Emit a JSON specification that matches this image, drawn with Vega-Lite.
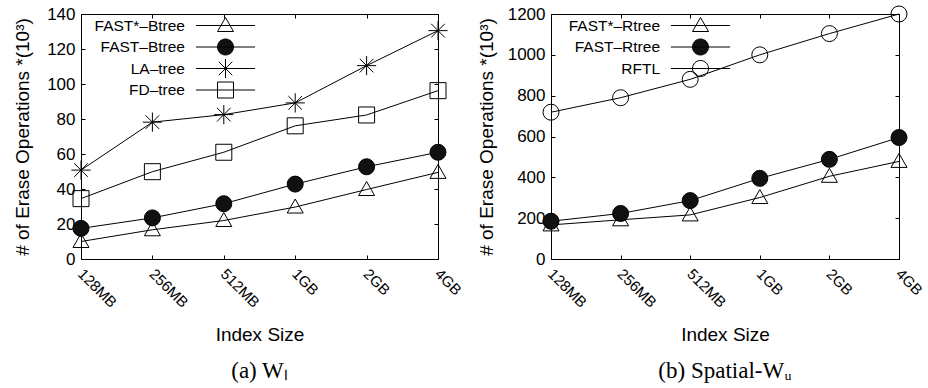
{
  "$schema": "https://vega.github.io/schema/vega-lite/v6.json",
  "padding": {"left": 13, "top": 3, "right": 5, "bottom": 0},
  "spacing": 12,
  "datasets": {
    "wl": [
      {"size": "128MB", "series": "FAST*–Btree", "erases": 10},
      {"size": "256MB", "series": "FAST*–Btree", "erases": 16.7},
      {"size": "512MB", "series": "FAST*–Btree", "erases": 22},
      {"size": "1GB", "series": "FAST*–Btree", "erases": 29.7},
      {"size": "2GB", "series": "FAST*–Btree", "erases": 39.7},
      {"size": "4GB", "series": "FAST*–Btree", "erases": 49.5},
      {"size": "128MB", "series": "FAST–Btree", "erases": 17.5},
      {"size": "256MB", "series": "FAST–Btree", "erases": 23.5},
      {"size": "512MB", "series": "FAST–Btree", "erases": 31.6},
      {"size": "1GB", "series": "FAST–Btree", "erases": 42.8},
      {"size": "2GB", "series": "FAST–Btree", "erases": 52.7},
      {"size": "4GB", "series": "FAST–Btree", "erases": 61},
      {"size": "128MB", "series": "LA–tree", "erases": 50.8},
      {"size": "256MB", "series": "LA–tree", "erases": 78.2},
      {"size": "512MB", "series": "LA–tree", "erases": 82.5},
      {"size": "1GB", "series": "LA–tree", "erases": 89.2},
      {"size": "2GB", "series": "LA–tree", "erases": 110.5},
      {"size": "4GB", "series": "LA–tree", "erases": 130.5},
      {"size": "128MB", "series": "FD–tree", "erases": 34.5},
      {"size": "256MB", "series": "FD–tree", "erases": 49.9},
      {"size": "512MB", "series": "FD–tree", "erases": 61},
      {"size": "1GB", "series": "FD–tree", "erases": 76.1},
      {"size": "2GB", "series": "FD–tree", "erases": 82.3},
      {"size": "4GB", "series": "FD–tree", "erases": 96.2}
    ],
    "wu": [
      {"size": "128MB", "series": "FAST*–Rtree", "erases": 167},
      {"size": "256MB", "series": "FAST*–Rtree", "erases": 192},
      {"size": "512MB", "series": "FAST*–Rtree", "erases": 216},
      {"size": "1GB", "series": "FAST*–Rtree", "erases": 301},
      {"size": "2GB", "series": "FAST*–Rtree", "erases": 405},
      {"size": "4GB", "series": "FAST*–Rtree", "erases": 478},
      {"size": "128MB", "series": "FAST–Rtree", "erases": 185},
      {"size": "256MB", "series": "FAST–Rtree", "erases": 223},
      {"size": "512MB", "series": "FAST–Rtree", "erases": 286},
      {"size": "1GB", "series": "FAST–Rtree", "erases": 395},
      {"size": "2GB", "series": "FAST–Rtree", "erases": 488},
      {"size": "4GB", "series": "FAST–Rtree", "erases": 595},
      {"size": "128MB", "series": "RFTL", "erases": 719},
      {"size": "256MB", "series": "RFTL", "erases": 790},
      {"size": "512MB", "series": "RFTL", "erases": 880},
      {"size": "1GB", "series": "RFTL", "erases": 1000},
      {"size": "2GB", "series": "RFTL", "erases": 1104},
      {"size": "4GB", "series": "RFTL", "erases": 1200}
    ]
  },
  "hconcat": [
    {
      "width": 357,
      "height": 245,
      "data": {"name": "wl"},
      "title": {"text": "(a) Wₗ"},
      "layer": [
        {
          "mark": {"type": "line", "color": "black", "strokeWidth": 1},
          "encoding": {
            "x": {"field": "size", "type": "ordinal", "sort": ["128MB", "256MB", "512MB", "1GB", "2GB", "4GB"], "scale": {"type": "point", "padding": 0}, "axis": {"orient": "bottom", "title": "Index Size", "labelAngle": 45, "labelAlign": "left", "labelBaseline": "top", "labelPadding": 11, "labelOffset": 4, "labelFontSize": 15, "titlePadding": 15}},
            "y": {"field": "erases", "type": "quantitative", "scale": {"domain": [0, 140], "nice": false}, "axis": {"orient": "left", "values": [0, 20, 40, 60, 80, 100, 120, 140], "format": "d", "title": "# of Erase Operations *(10³)", "labelPadding": 10, "titlePadding": 14}},
            "detail": {"field": "series"}
          }
        },
        {
          "mark": {"type": "point", "filled": true, "stroke": "black", "strokeWidth": 1, "size": 256, "opacity": 1},
          "encoding": {
            "x": {"field": "size", "type": "ordinal", "sort": ["128MB", "256MB", "512MB", "1GB", "2GB", "4GB"], "axis": {"orient": "top", "labels": false, "title": null}},
            "y": {"field": "erases", "type": "quantitative", "axis": {"orient": "right", "labels": false, "title": null, "values": [0, 20, 40, 60, 80, 100, 120, 140]}},
            "shape": {"field": "series", "type": "nominal", "scale": {"domain": ["FAST*–Btree", "FAST–Btree", "LA–tree", "FD–tree"], "range": ["M0,-1L1,0.75L-1,0.75Z", "circle", "M-1.2,0L1.2,0M0,-1.2L0,1.2M-0.85,-0.85L0.85,0.85M-0.85,0.85L0.85,-0.85", "square"]}, "legend": null},
            "fill": {"field": "series", "type": "nominal", "scale": {"domain": ["FAST*–Btree", "FAST–Btree", "LA–tree", "FD–tree"], "range": ["transparent", "#111111", "transparent", "transparent"]}, "legend": null}
          }
        },
        {
          "transform": [{"filter": "false"}],
          "mark": {"type": "point", "filled": true, "stroke": "black", "strokeWidth": 1, "size": 256},
          "encoding": {
            "shape": {"field": "series", "type": "nominal", "scale": {"domain": ["FAST*–Btree", "FAST–Btree", "LA–tree", "FD–tree"], "range": ["M0,-1.2M0,1.2M-3.7,0L3.7,0M0,-1L1,0.75L-1,0.75Z", "M0,-1.2M0,1.2M-3.7,0L3.7,0M1,0A1,1,0,1,1,-1,0A1,1,0,1,1,1,0Z", "M0,-1.2M0,1.2M-3.7,0L3.7,0M-1.2,0L1.2,0M0,-1.2L0,1.2M-0.85,-0.85L0.85,0.85M-0.85,0.85L0.85,-0.85", "M0,-1.2M0,1.2M-3.7,0L3.7,0M-1,-1L1,-1L1,1L-1,1Z"]}, "legend": {"orient": "none", "legendX": 136, "legendY": 3, "encode": {"symbols": {"update": {"stroke": {"value": "black"}, "strokeWidth": {"value": 1}, "opacity": {"value": 1}}}}}},
            "fill": {"field": "series", "type": "nominal", "scale": {"domain": ["FAST*–Btree", "FAST–Btree", "LA–tree", "FD–tree"], "range": ["transparent", "#111111", "transparent", "transparent"]}, "legend": {"orient": "none", "legendX": 136, "legendY": 3, "encode": {"symbols": {"update": {"stroke": {"value": "black"}, "strokeWidth": {"value": 1}, "opacity": {"value": 1}}}}}}
          }
        }
      ],
      "resolve": {"scale": {"shape": "independent", "fill": "independent"}, "axis": {"x": "independent", "y": "independent"}}
    },
    {
      "width": 348,
      "height": 245,
      "data": {"name": "wu"},
      "title": {"text": "(b) Spatial-Wᵤ"},
      "layer": [
        {
          "mark": {"type": "line", "color": "black", "strokeWidth": 1},
          "encoding": {
            "x": {"field": "size", "type": "ordinal", "sort": ["128MB", "256MB", "512MB", "1GB", "2GB", "4GB"], "scale": {"type": "point", "padding": 0}, "axis": {"orient": "bottom", "title": "Index Size", "labelAngle": 45, "labelAlign": "left", "labelBaseline": "top", "labelPadding": 11, "labelOffset": 4, "labelFontSize": 15, "titlePadding": 15}},
            "y": {"field": "erases", "type": "quantitative", "scale": {"domain": [0, 1200], "nice": false}, "axis": {"orient": "left", "values": [0, 200, 400, 600, 800, 1000, 1200], "format": "d", "title": "# of Erase Operations *(10³)", "labelPadding": 10, "titlePadding": 11}},
            "detail": {"field": "series"}
          }
        },
        {
          "mark": {"type": "point", "filled": true, "stroke": "black", "strokeWidth": 1, "size": 256, "opacity": 1},
          "encoding": {
            "x": {"field": "size", "type": "ordinal", "sort": ["128MB", "256MB", "512MB", "1GB", "2GB", "4GB"], "axis": {"orient": "top", "labels": false, "title": null}},
            "y": {"field": "erases", "type": "quantitative", "axis": {"orient": "right", "labels": false, "title": null, "values": [0, 200, 400, 600, 800, 1000, 1200]}},
            "shape": {"field": "series", "type": "nominal", "scale": {"domain": ["FAST*–Rtree", "FAST–Rtree", "RFTL"], "range": ["M0,-1L1,0.75L-1,0.75Z", "circle", "circle"]}, "legend": null},
            "fill": {"field": "series", "type": "nominal", "scale": {"domain": ["FAST*–Rtree", "FAST–Rtree", "RFTL"], "range": ["transparent", "#111111", "transparent"]}, "legend": null}
          }
        },
        {
          "transform": [{"filter": "false"}],
          "mark": {"type": "point", "filled": true, "stroke": "black", "strokeWidth": 1, "size": 256},
          "encoding": {
            "shape": {"field": "series", "type": "nominal", "scale": {"domain": ["FAST*–Rtree", "FAST–Rtree", "RFTL"], "range": ["M0,-1.2M0,1.2M-3.7,0L3.7,0M0,-1L1,0.75L-1,0.75Z", "M0,-1.2M0,1.2M-3.7,0L3.7,0M1,0A1,1,0,1,1,-1,0A1,1,0,1,1,1,0Z", "M0,-1.2M0,1.2M-3.7,0L3.7,0M1,0A1,1,0,1,1,-1,0A1,1,0,1,1,1,0Z"]}, "legend": {"orient": "none", "legendX": 141, "legendY": 3, "encode": {"symbols": {"update": {"stroke": {"value": "black"}, "strokeWidth": {"value": 1}, "opacity": {"value": 1}}}}}},
            "fill": {"field": "series", "type": "nominal", "scale": {"domain": ["FAST*–Rtree", "FAST–Rtree", "RFTL"], "range": ["transparent", "#111111", "transparent"]}, "legend": {"orient": "none", "legendX": 141, "legendY": 3, "encode": {"symbols": {"update": {"stroke": {"value": "black"}, "strokeWidth": {"value": 1}, "opacity": {"value": 1}}}}}}
          }
        }
      ],
      "resolve": {"scale": {"shape": "independent", "fill": "independent"}, "axis": {"x": "independent", "y": "independent"}}
    }
  ],
  "config": {
    "view": {"stroke": "black", "strokeWidth": 1},
    "font": "Liberation Sans",
    "axis": {"domain": false, "grid": false, "tickColor": "black", "tickSize": -4, "tickWidth": 1, "labelColor": "black", "labelFont": "Liberation Sans", "labelFontSize": 17, "titleFont": "Liberation Sans", "titleFontSize": 19, "titleFontWeight": "normal", "titleColor": "black", "labelFlush": false},
    "legend": {"title": null, "labelAlign": "right", "labelOffset": -49, "labelFont": "Liberation Sans", "labelFontSize": 15.5, "labelColor": "black", "symbolSize": 256, "symbolStrokeWidth": 1, "symbolStrokeColor": "black", "symbolOpacity": 1, "rowPadding": -3.5, "padding": 0, "labelLimit": 0},
    "title": {"orient": "bottom", "anchor": "middle", "font": "Liberation Serif", "fontSize": 23, "fontWeight": "normal", "color": "black", "offset": 16}
  }
}
